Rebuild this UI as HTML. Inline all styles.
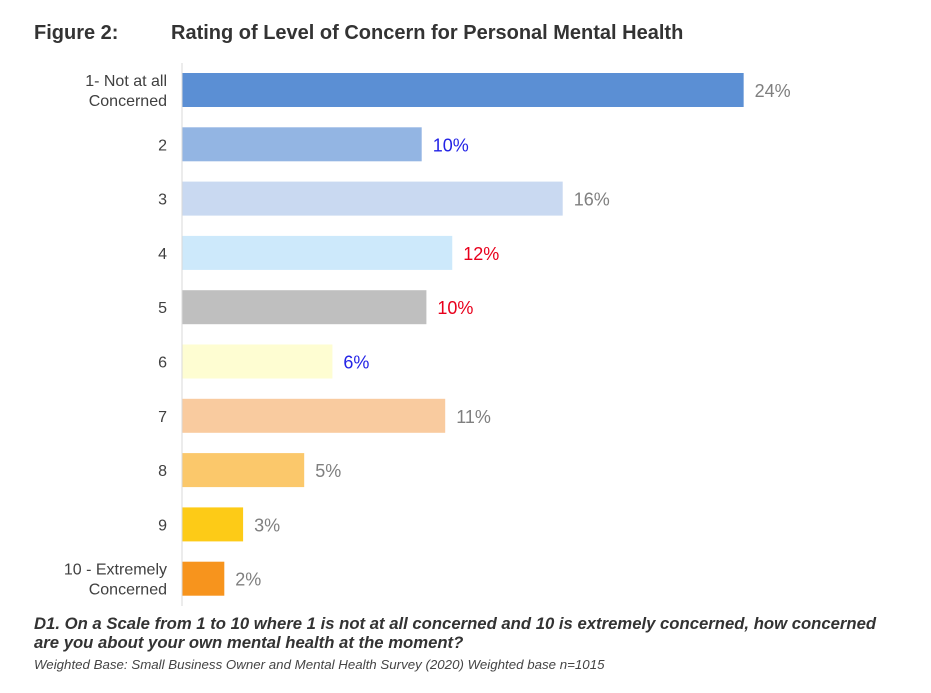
<!DOCTYPE html>
<html><head><meta charset="utf-8"><style>
body{margin:0;background:#fff;font-family:"Liberation Sans",Arial,sans-serif;}
#wrap{position:relative;width:931px;height:693px;overflow:hidden;}
.t{position:absolute;white-space:nowrap;}
</style></head><body>
<div id="wrap">
<div class="t" style="left:34px;top:22px;font-size:20px;font-weight:bold;color:#333;">Figure 2:</div>
<div class="t" style="left:171px;top:22px;font-size:20px;font-weight:bold;color:#333;">Rating of Level of Concern for Personal Mental Health</div>
<svg id="chart" width="931" height="693" style="position:absolute;left:0;top:0;"></svg>
<div class="t" style="left:34px;top:614px;font-size:16.7px;font-weight:bold;font-style:italic;color:#333;line-height:19px;">D1. On a Scale from 1 to 10 where 1 is not at all concerned and 10 is extremely concerned, how concerned<br>are you about your own mental health at the moment?</div>
<div class="t" style="left:34px;top:657px;font-size:13.3px;font-style:italic;color:#444;">Weighted Base: Small Business Owner and Mental Health Survey (2020) Weighted base n=1015</div>
</div>
<script>
const categories=[["1- Not at all","Concerned"],["2"],["3"],["4"],["5"],["6"],["7"],["8"],["9"],["10 - Extremely","Concerned"]];
const values=[23.9,10.2,16.2,11.5,10.4,6.4,11.2,5.2,2.6,1.8];
const valueLabels=["24%","10%","16%","12%","10%","6%","11%","5%","3%","2%"];
const barColors=["#5b8fd4","#93b5e3","#c9d9f1","#cde9fb","#bfbfbf","#fefdd2","#f9cb9f","#fbc86b","#fdcb17","#f7941d"];
const labelColors=["#7f7f7f","#2323e6","#7f7f7f","#e8001c","#e8001c","#2323e6","#7f7f7f","#7f7f7f","#7f7f7f","#7f7f7f"];
const svg=document.getElementById('chart');const NS='http://www.w3.org/2000/svg';
const x0=182,pxPer=23.5,y0=90,step=54.3,bh=34;
const xs=v=>x0+v*pxPer;const ys=i=>y0+i*step;
function mk(t,a){const e=document.createElementNS(NS,t);for(const k in a)e.setAttribute(k,a[k]);svg.appendChild(e);return e;}
values.forEach((v,i)=>{
 const r=mk('rect',{x:x0,y:ys(i)-bh/2,width:xs(v)-x0,height:bh,fill:barColors[i]});
 
 
 const t=mk('text',{x:xs(v)+11,y:ys(i)+7,'font-size':18,fill:labelColors[i]});
 t.textContent=valueLabels[i];
 
 
 const c=categories[i];
 c.forEach((line,j)=>{
  const l=mk('text',{x:167,y:ys(i)+6+(j-(c.length-1)/2)*20,'font-size':16,fill:'#404040','text-anchor':'end'});
  l.textContent=line;
  
  
 });
});
const ax=mk('line',{x1:x0,y1:63,x2:x0,y2:606,stroke:'#d9d9d9','stroke-width':1});


</script>
</body></html>
